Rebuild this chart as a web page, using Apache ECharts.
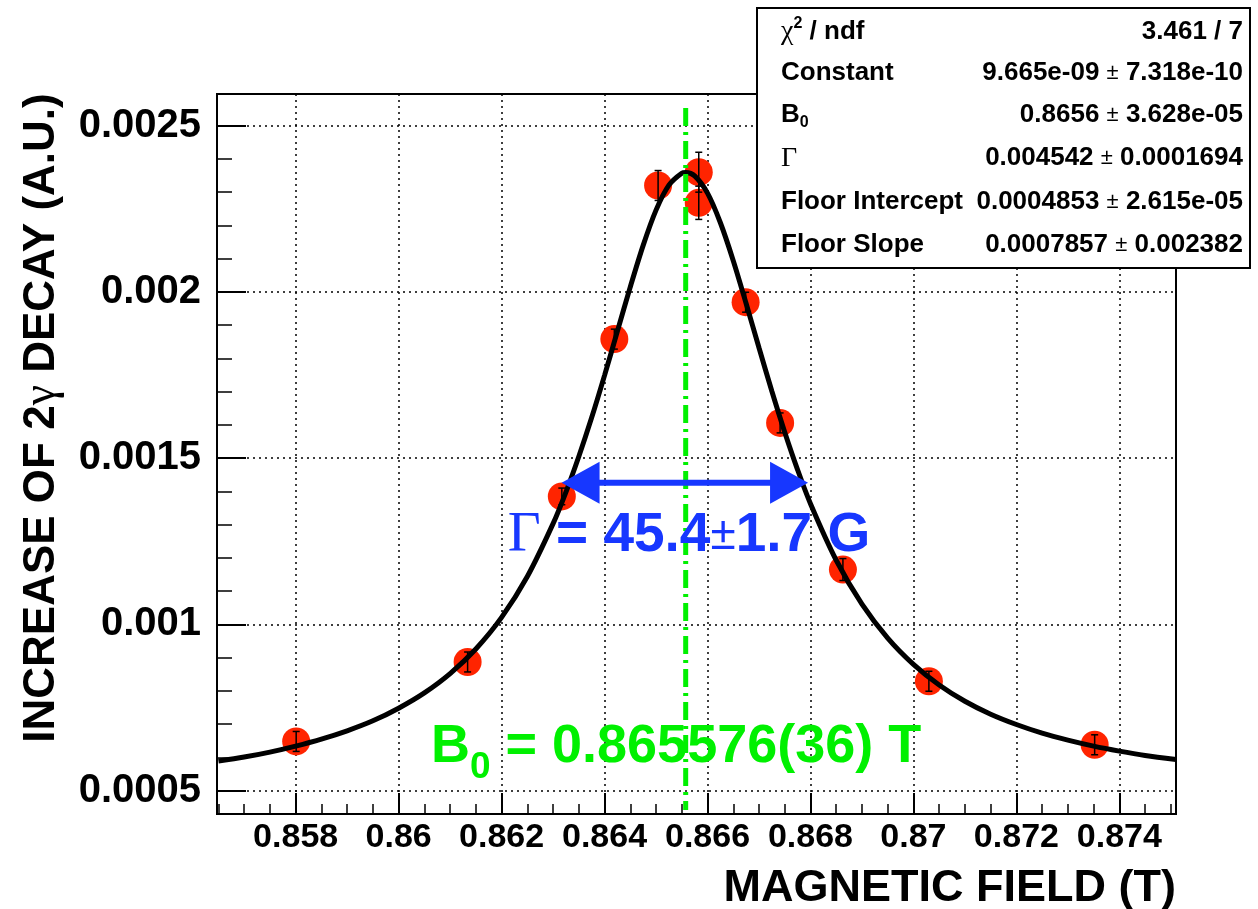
<!DOCTYPE html>
<html><head><meta charset="utf-8">
<script src="https://cdn.jsdelivr.net/npm/echarts@6/dist/echarts.min.js"></script>
<style>html,body{margin:0;padding:0;background:#fff}#main{width:1258px;height:909px}</style>
</head><body><div id="main"></div>
<script>
// ---------------- data ----------------
const xMajorTicks = [0.858, 0.86, 0.862, 0.864, 0.866, 0.868, 0.87, 0.872, 0.874];
const xMinorTicks = [0.8565, 0.857, 0.8575, 0.858, 0.8585, 0.859, 0.8595, 0.86, 0.8605, 0.861, 0.8615, 0.862, 0.8625, 0.863, 0.8635, 0.864, 0.8645, 0.865, 0.8655, 0.866, 0.8665, 0.867, 0.8675, 0.868, 0.8685, 0.869, 0.8695, 0.87, 0.8705, 0.871, 0.8715, 0.872, 0.8725, 0.873, 0.8735, 0.874, 0.8745, 0.875];
const yMajorTicks = [0.0005, 0.001, 0.0015, 0.002, 0.0025];
const yMinorTicks = [0.0005, 0.0006, 0.0007, 0.0008, 0.0009, 0.001, 0.0011, 0.0012, 0.0013, 0.0014, 0.0015, 0.0016, 0.0017, 0.0018, 0.0019, 0.002, 0.0021, 0.0022, 0.0023, 0.0024, 0.0025];

// measured points
const pointX   = [0.85801, 0.86134, 0.86317, 0.86419, 0.86504, 0.86583, 0.86583, 0.86674, 0.86741, 0.86863, 0.87030, 0.87352];
const pointY   = [0.000648, 0.000887, 0.001385, 0.001858, 0.002320, 0.002360, 0.002268, 0.001969, 0.001606, 0.001165, 0.000829, 0.000638];
const pointErr = [0.00003, 0.00003, 0.000025, 0.00003, 0.000045, 0.00006, 0.00005, 0.00003, 0.00003, 0.000033, 0.00003, 0.00003];

// fitted curve
const curveX = [0.8565, 0.857, 0.8575, 0.858, 0.8585, 0.859, 0.8595, 0.86, 0.8605, 0.861, 0.8615, 0.862, 0.8625, 0.863, 0.86325, 0.8635, 0.86375, 0.864, 0.86425, 0.8645, 0.86475, 0.865, 0.86525, 0.8655, 0.865576, 0.86575, 0.866, 0.86625, 0.8665, 0.86675, 0.867, 0.86725, 0.8675, 0.86775, 0.868, 0.8685, 0.869, 0.8695, 0.87, 0.8705, 0.871, 0.8715, 0.872, 0.8725, 0.873, 0.8735, 0.874, 0.8745, 0.8751];
const curveY = [0.000589, 0.000601, 0.000616, 0.000634, 0.000655, 0.000680, 0.000710, 0.000748, 0.000794, 0.000852, 0.000926, 0.001021, 0.001144, 0.001303, 0.001398, 0.001505, 0.001622, 0.001749, 0.001882, 0.002015, 0.002140, 0.002246, 0.002321, 0.002357, 0.002359, 0.002349, 0.002297, 0.002208, 0.002094, 0.001965, 0.001832, 0.001701, 0.001578, 0.001465, 0.001363, 0.001193, 0.001061, 0.000959, 0.000880, 0.000818, 0.000769, 0.000730, 0.000699, 0.000673, 0.000652, 0.000634, 0.000619, 0.000606, 0.000594];

const B0 = 0.865576;
const b0LineY = [0.002553, 0.000442];
const fwhmArrow = [0.863165, 0.867953, 0.0014263]; // left tip, right tip, height

const statsNames  = ['χ² / ndf', 'Constant', 'B0', 'Γ', 'Floor Intercept', 'Floor Slope'];
const statsValues = ['3.461 / 7', '9.665e-09 ± 7.318e-10', '0.8656 ± 3.628e-05', '0.004542 ± 0.0001694', '0.0004853 ± 2.615e-05', '0.0007857 ± 0.002382'];

const xTitle = 'MAGNETIC FIELD (T)';
const gammaLabel = ['Γ', ' = 45.4', '±', '1.7 G'];
const b0Label = ['B', '0', ' = 0.865576(36) T'];

// ---------------- styling ----------------
const SANS = '"Liberation Sans", Arial, Helvetica, sans-serif';
const SERIF = '"Liberation Serif", "Times New Roman", serif';
const RED = '#ff2400', GREEN = '#00f000', BLUE = '#1737ff';
const X_MIN = 0.856472, X_MAX = 0.8751, Y_MIN = 0.0004298, Y_MAX = 0.0025952;
const fmt = v => String(parseFloat(Number(v).toFixed(6)));

const chart = echarts.init(document.getElementById('main'), null, {renderer: 'canvas'});

const option = {
  animation: false,
  backgroundColor: '#fff',
  grid: {left: 217, right: 82, top: 94, bottom: 95, show: true, borderColor: '#000', borderWidth: 2, backgroundColor: 'transparent'},
  xAxis: [
    {type: 'value', min: X_MIN, max: X_MAX, position: 'bottom',
     axisLine: {show: true, onZero: false, lineStyle: {color: '#000', width: 2}},
     axisTick: {show: true, inside: true, length: 21, customValues: xMajorTicks, lineStyle: {color: '#000', width: 2}},
     axisLabel: {show: true, customValues: xMajorTicks, formatter: fmt, margin: 7, color: '#000', fontFamily: SANS, fontWeight: 'bold', fontSize: 34},
     splitLine: {show: true, lineStyle: {color: '#000', width: 1.5, type: [2, 4]}}},
    {type: 'value', min: X_MIN, max: X_MAX, position: 'bottom',
     axisLine: {show: false},
     axisTick: {show: true, inside: true, length: 10, customValues: xMinorTicks, lineStyle: {color: '#000', width: 1.5}},
     axisLabel: {show: false}, splitLine: {show: false}}
  ],
  yAxis: [
    {type: 'value', min: Y_MIN, max: Y_MAX, position: 'left',
     axisLine: {show: true, onZero: false, lineStyle: {color: '#000', width: 2}},
     axisTick: {show: true, inside: true, length: 29, customValues: yMajorTicks, lineStyle: {color: '#000', width: 2}},
     axisLabel: {show: true, customValues: yMajorTicks, formatter: fmt, margin: 16, color: '#000', fontFamily: SANS, fontWeight: 'bold', fontSize: 40},
     splitLine: {show: true, lineStyle: {color: '#000', width: 1.5, type: [2, 4]}}},
    {type: 'value', min: Y_MIN, max: Y_MAX, position: 'left',
     axisLine: {show: false},
     axisTick: {show: true, inside: true, length: 15, customValues: yMinorTicks, lineStyle: {color: '#000', width: 1.5}},
     axisLabel: {show: false}, splitLine: {show: false}}
  ],
  series: [
    {type: 'scatter', name: 'data', xAxisIndex: 0, yAxisIndex: 0, z: 3,
     symbol: 'circle', symbolSize: 28, itemStyle: {color: RED, opacity: 1},
     data: pointX.map((x, i) => [x, pointY[i]])},
    {type: 'custom', name: 'errors', xAxisIndex: 0, yAxisIndex: 0, z: 4,
     encode: {x: 0, y: 1},
     data: pointX.map((x, i) => [x, pointY[i], pointErr[i]]),
     renderItem: function (params, api) {
       const x = api.value(0), y = api.value(1), e = api.value(2);
       const t = api.coord([x, y + e]), b = api.coord([x, y - e]);
       const cw = 3.5, st = {stroke: '#000', lineWidth: 1.5};
       return {type: 'group', children: [
         {type: 'line', shape: {x1: t[0], y1: t[1], x2: b[0], y2: b[1]}, style: st},
         {type: 'line', shape: {x1: t[0] - cw, y1: t[1], x2: t[0] + cw, y2: t[1]}, style: st},
         {type: 'line', shape: {x1: b[0] - cw, y1: b[1], x2: b[0] + cw, y2: b[1]}, style: st}
       ]};
     }},
    {type: 'line', name: 'fit', xAxisIndex: 0, yAxisIndex: 0, z: 5,
     showSymbol: false, symbol: 'none', smooth: 0.3,
     lineStyle: {color: '#000', width: 5},
     data: curveX.map((x, i) => [x, curveY[i]])},
    {type: 'line', name: 'B0', xAxisIndex: 0, yAxisIndex: 0, z: 6,
     showSymbol: false, symbol: 'none',
     lineStyle: {color: GREEN, width: 5, type: [18, 6, 3, 6]},
     data: [[B0, b0LineY[0]], [B0, b0LineY[1]]]},
    {type: 'custom', name: 'arrow', xAxisIndex: 0, yAxisIndex: 0, z: 7,
     encode: {x: [0, 1], y: 2},
     data: [fwhmArrow],
     renderItem: function (params, api) {
       const l = api.coord([api.value(0), api.value(2)]);
       const r = api.coord([api.value(1), api.value(2)]);
       const hl = 38, hh = 21, st = {fill: BLUE};
       return {type: 'group', children: [
         {type: 'line', shape: {x1: l[0] + hl - 2, y1: l[1], x2: r[0] - hl + 2, y2: r[1]}, style: {stroke: BLUE, lineWidth: 6}},
         {type: 'polygon', shape: {points: [[l[0], l[1]], [l[0] + hl, l[1] - hh], [l[0] + hl, l[1] + hh]]}, style: st},
         {type: 'polygon', shape: {points: [[r[0], r[1]], [r[0] - hl, r[1] - hh], [r[0] - hl, r[1] + hh]]}, style: st}
       ]};
     }}
  ]
};
chart.setOption(option);

// ---------------- annotations ----------------
const px = (x, y) => chart.convertToPixel({gridIndex: 0}, [x, y]);
const gPos = px(0.86212, 0.001266);
const bPos = px(0.860627, 0.000630);

const graphics = [];
// axis titles
graphics.push({type: 'text', z: 50, x: 1176, y: 889,
  style: {text: xTitle, fill: '#000', font: 'bold 45px ' + SANS, textAlign: 'right', textVerticalAlign: 'middle'}});
graphics.push({type: 'text', z: 50, x: 42, y: 418, rotation: Math.PI / 2,
  style: {text: '{t|INCREASE OF 2}{g|γ}{t| DECAY (A.U.)}', textAlign: 'center', textVerticalAlign: 'middle',
    rich: {t: {fill: '#000', fontFamily: SANS, fontWeight: 'bold', fontSize: 44},
           g: {fill: '#000', fontFamily: SERIF, fontSize: 46}}}});
// gamma label
graphics.push({type: 'text', z: 50, x: gPos[0], y: gPos[1],
  style: {text: '{g|' + gammaLabel[0] + '}{t|' + gammaLabel[1] + '}{p|' + gammaLabel[2] + '}{t|' + gammaLabel[3] + '}',
    textAlign: 'left', textVerticalAlign: 'middle',
    rich: {g: {fill: BLUE, fontFamily: SERIF, fontSize: 57},
           t: {fill: BLUE, fontFamily: SANS, fontWeight: 'bold', fontSize: 55},
           p: {fill: BLUE, fontFamily: SANS, fontSize: 46}}}});
// B0 label
graphics.push({type: 'text', z: 50, x: bPos[0], y: bPos[1],
  style: {text: '{t|' + b0Label[0] + '}{s|' + b0Label[1] + '}{t|' + b0Label[2] + '}',
    textAlign: 'left', textVerticalAlign: 'middle',
    rich: {t: {fill: GREEN, fontFamily: SANS, fontWeight: 'bold', fontSize: 54},
           s: {fill: GREEN, fontFamily: SANS, fontWeight: 'bold', fontSize: 37, padding: [40, 0, 0, 0]}}}});
// stats box
const boxX = 757, boxY = 8, boxW = 493, boxH = 260;
graphics.push({type: 'rect', z: 100, shape: {x: boxX, y: boxY, width: boxW, height: boxH},
  style: {fill: '#fff', stroke: '#000', lineWidth: 2}});
const rowY = [31.7, 73.3, 115, 158.3, 201.7, 245];
const statRich = {
  n: {fill: '#000', fontFamily: SANS, fontWeight: 'bold', fontSize: 26},
  s: {fill: '#000', fontFamily: SERIF, fontSize: 28},
  sub: {fill: '#000', fontFamily: SANS, fontWeight: 'bold', fontSize: 16, padding: [15, 0, 0, 0]},
  sup: {fill: '#000', fontFamily: SANS, fontWeight: 'bold', fontSize: 16, padding: [0, 0, 16, 0]},
  pm: {fill: '#000', fontFamily: SANS, fontSize: 22}
};
statsNames.forEach((name, i) => {
  let t;
  if (name.startsWith('χ')) t = '{s|χ}{sup|2}{n| / ndf}';
  else if (name === 'B0') t = '{n|B}{sub|0}';
  else if (name === 'Γ') t = '{s|Γ}';
  else t = '{n|' + name + '}';
  graphics.push({type: 'text', z: 101, x: 781, y: rowY[i],
    style: {text: t, textAlign: 'left', textVerticalAlign: 'middle', rich: statRich}});
  const v = statsValues[i].split(' ± ');
  const vt = v.length === 2 ? '{n|' + v[0] + ' }{pm|±}{n| ' + v[1] + '}' : '{n|' + v[0] + '}';
  graphics.push({type: 'text', z: 101, x: 1243, y: rowY[i],
    style: {text: vt, textAlign: 'right', textVerticalAlign: 'middle', rich: statRich}});
});
chart.setOption({graphic: graphics});
</script></body></html>
